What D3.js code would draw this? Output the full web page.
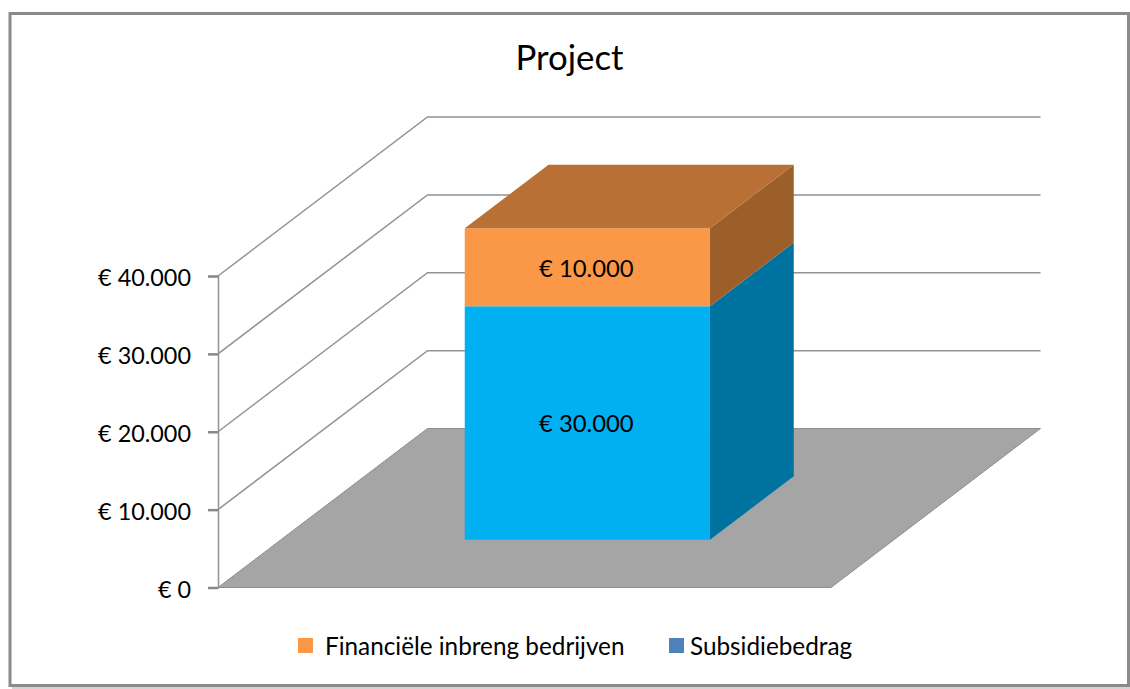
<!DOCTYPE html>
<html>
<head>
<meta charset="utf-8">
<script src="https://cdn.jsdelivr.net/npm/d3@7"></script>
<style>
  html, body { margin: 0; padding: 0; background: #fff; }
  svg { display: block; }
  text { font-family: Lato, "Open Sans", sans-serif; fill: #000; }
</style>
</head>
<body>
<div id="chart"></div>
<script>
const title = 'Project'
const categories = ['Project']
const seriesNames = ['Subsidiebedrag', 'Financiële inbreng bedrijven']
const subsidie = [30000]
const inbreng = [10000]
const yTicks = [0, 10000, 20000, 30000, 40000]
const legendNames = ['Financiële inbreng bedrijven', 'Subsidiebedrag']

const frontColors = ['#00b0f0', '#fa9847']
const sideColors = ['#00729f', '#9c5f2a']
const topColor = '#b97035'
const legendColors = { 'Financiële inbreng bedrijven': '#fa9847', 'Subsidiebedrag': '#4f81bd' }

const width = 1130, height = 689

const xScale = d3.scaleBand().domain(categories).range([218, 831]).paddingInner(0).paddingOuter(0.75)
const yScale = d3.scaleLinear().domain([0, 40000]).range([587.5, 276])
// how far a point moves when it goes from the front to the back of the chart
const depthX = d3.scaleLinear().domain([0, 1]).range([0, 209.5])
const depthY = d3.scaleLinear().domain([0, 1]).range([0, -159])
const barDepth = d3.scaleBand().domain(categories).range([0, 1]).paddingInner(0).paddingOuter(0.75)

const pt = (x, v, z) => [x + depthX(z), yScale(v) + depthY(z)]
const poly = pts => 'M' + pts.map(p => p.join(',')).join('L') + 'Z'
const euro = d => '€ ' + String(d).replace(/(\d)(?=\d{3}$)/, '$1.')

const svg = d3.select('#chart').append('svg')
  .attr('width', width)
  .attr('height', height)

// frame with its soft shadow
svg.append('rect')
  .attr('x', 12).attr('y', 15)
  .attr('width', width - 12).attr('height', 674)
  .attr('fill', '#d4d4d4')
svg.append('rect')
  .attr('x', 10).attr('y', 13.5)
  .attr('width', 1118.5).attr('height', 672)
  .attr('fill', '#fff')
  .attr('stroke', '#8a8a8a')
  .attr('stroke-width', 3)

svg.append('text')
  .attr('x', 569.5).attr('y', 70)
  .attr('text-anchor', 'middle')
  .style('font-size', '34.8px')
  .text(title)

// floor
const [x0, x1] = xScale.range()
svg.append('path')
  .attr('d', poly([pt(x0, 0, 0), pt(x0, 0, 1), pt(x1, 0, 1), pt(x1, 0, 0)]))
  .attr('fill', '#a5a5a5')
  .attr('stroke', '#8e8e8e')
  .attr('stroke-width', 1)

// gridlines on the side wall and the back wall
const grid = svg.append('g')
grid.selectAll('path')
  .data(yTicks.filter(d => d > 0)).enter()
  .append('path')
  .attr('d', d => d3.line()([pt(x0, d, 0), pt(x0, d, 1), pt(x1, d, 1)]))
  .attr('fill', 'none')
  .attr('stroke', '#939393')
  .attr('stroke-width', 1.5)

// value axis
const yAxis = d3.axisLeft(yScale)
  .tickValues(yTicks)
  .tickSize(10)
  .tickPadding(17)
  .tickFormat(euro)
const axisG = svg.append('g')
  .attr('transform', 'translate(' + x0 + ', 0)')
  .call(yAxis)
axisG.select('.domain').attr('stroke', '#939393').attr('stroke-width', 1.5)
axisG.selectAll('.tick line').attr('stroke', '#8a8a8a').attr('stroke-width', 2.5)
axisG.selectAll('.tick text')
  .style('font-size', '23.4px')
  .attr('y', 2)
  .attr('fill', '#000')

// stacked box
const stacked = d3.stack().keys(seriesNames).value((d, k) =>
  k === 'Subsidiebedrag' ? subsidie[categories.indexOf(d)] : inbreng[categories.indexOf(d)])(categories)

const bl = xScale(categories[0])
const br = bl + xScale.bandwidth()
const z0 = barDepth(categories[0])
const z1 = z0 + barDepth.bandwidth()

const box = svg.append('g').selectAll('g')
  .data(stacked).enter()
  .append('g')

box.append('path')
  .attr('d', s => poly([pt(br, s[0][0], z0), pt(br, s[0][1], z0), pt(br, s[0][1], z1), pt(br, s[0][0], z1)]))
  .attr('fill', (s, i) => sideColors[i])
box.append('path')
  .attr('d', s => poly([pt(bl, s[0][0], z0), pt(bl, s[0][1], z0), pt(br, s[0][1], z0), pt(br, s[0][0], z0)]))
  .attr('fill', (s, i) => frontColors[i])

const topVal = stacked[stacked.length - 1][0][1]
svg.append('path')
  .attr('d', poly([pt(bl, topVal, z0), pt(bl, topVal, z1), pt(br, topVal, z1), pt(br, topVal, z0)]))
  .attr('fill', topColor)

// value labels, centred on the front face
box.append('text')
  .attr('x', pt((bl + br) / 2, 0, z0)[0] - 1)
  .attr('y', s => pt(bl, (s[0][0] + s[0][1]) / 2, z0)[1] + 1)
  .attr('dy', '0.35em')
  .attr('text-anchor', 'middle')
  .style('font-size', '23.8px')
  .text(s => euro(s[0][1] - s[0][0]))

// legend
const legendX = [298, 669]
const legendGap = [27, 21]
const legend = svg.append('g').selectAll('g')
  .data(legendNames).enter()
  .append('g')
  .attr('transform', (d, i) => 'translate(' + legendX[i] + ', 638)')
legend.append('rect')
  .attr('width', 15).attr('height', 15)
  .attr('fill', d => legendColors[d])
legend.append('text')
  .attr('x', (d, i) => legendGap[i])
  .attr('y', 17)
  .style('font-size', '24.3px')
  .text(d => d)
</script>
</body>
</html>
